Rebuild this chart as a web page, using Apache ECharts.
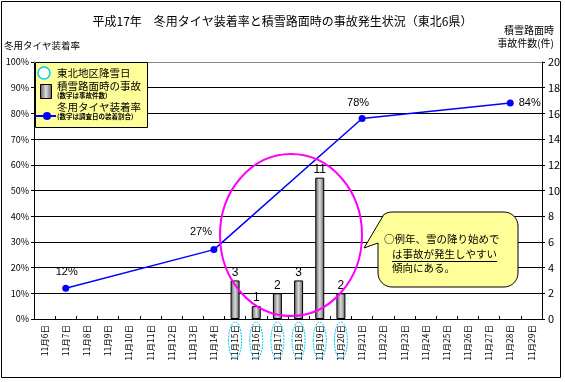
<!DOCTYPE html>
<html><head><meta charset="utf-8">
<script src="https://cdn.jsdelivr.net/npm/echarts@6/dist/echarts.min.js"></script>
<style>html,body{margin:0;padding:0;background:#fff}#c{width:565px;height:382px}</style>
</head><body><div id="c"></div>
<script>
const categories = ['11月6日','11月7日','11月8日','11月9日','11月10日','11月11日','11月12日','11月13日','11月14日','11月15日','11月16日','11月17日','11月18日','11月19日','11月20日','11月21日','11月22日','11月23日','11月24日','11月25日','11月26日','11月27日','11月28日','11月29日'];
const tireDates = ['11月7日','11月14日','11月21日','11月28日'];
const tireRates = [12, 27, 78, 84];
const accidentDates = ['11月15日','11月16日','11月17日','11月18日','11月19日','11月20日'];
const accidents = [3, 1, 2, 3, 11, 2];
const snowDays = ['11月15日','11月16日','11月17日','11月18日','11月19日','11月20日'];

const JP = '"Noto Sans CJK JP", sans-serif';
const chart = echarts.init(document.getElementById('c'), null, {renderer:'canvas'});

const labelCfg = [
  {position:'top', offset:[1,-2]},
  {position:'top', offset:[-13,-4]},
  {position:'top', offset:[-4,-2]},
  {position:'right', offset:[0,0]}
];

const barGrad = {type:'linear', x:0, y:0, x2:1, y2:0, colorStops:[
  {offset:0, color:'#5a5a5a'},{offset:0.5, color:'#dcdcdc'},{offset:1, color:'#5a5a5a'}]};
const barGrad2 = {type:'linear', x:0, y:0, x2:1, y2:0, colorStops:[
  {offset:0, color:'#5a5a5a'},{offset:0.5, color:'#dcdcdc'},{offset:1, color:'#5a5a5a'}]};

chart.setOption({
  animation:false,
  textStyle:{fontFamily:JP},
  title:{text:'平成17年　冬用タイヤ装着率と積雪路面時の事故発生状況（東北6県）', left:'center', top:10,
    textStyle:{fontFamily:JP, fontSize:12, fontWeight:'normal', color:'#000'}},
  grid:{left:34, top:62, right:23, bottom:63},
  xAxis:{type:'category', data:categories, boundaryGap:true,
    axisLine:{lineStyle:{color:'#000', width:1}},
    axisTick:{show:true, inside:true, length:3, lineStyle:{color:'#000'}},
    axisLabel:{rotate:90, fontSize:8.5, color:'#000', margin:6, interval:0, fontFamily:JP}},
  yAxis:[
    {type:'value', min:0, max:100, interval:10, position:'left',
     name:'冬用タイヤ装着率', nameLocation:'end', nameGap:12,
     nameTextStyle:{fontFamily:JP, fontSize:9.5, color:'#000', align:'left', padding:[0,0,0,-30]},
     axisLine:{show:true, lineStyle:{color:'#000'}},
     axisTick:{show:true, length:3, lineStyle:{color:'#000'}},
     axisLabel:{formatter:'{value}%', fontSize:9, color:'#000', margin:5},
     splitLine:{show:true, lineStyle:{color:'#000', width:1}}},
    {type:'value', min:0, max:20, interval:2, position:'right',
     name:'積雪路面時\n事故件数(件)', nameLocation:'end', nameGap:12,
     nameTextStyle:{fontFamily:JP, fontSize:10, color:'#000', align:'right', lineHeight:13, padding:[0,-12,0,0]},
     axisLine:{show:true, lineStyle:{color:'#000'}},
     axisTick:{show:true, length:3, lineStyle:{color:'#000'}},
     axisLabel:{fontSize:11, color:'#000', margin:6},
     splitLine:{show:false}}
  ],
  series:[
    {type:'bar', name:'積雪路面時の事故', yAxisIndex:1, barWidth:9,
     data:accidentDates.map((d,i)=>[d, accidents[i]]),
     itemStyle:{color:barGrad, borderColor:'#000', borderWidth:1},
     label:{show:true, position:'top', distance:2, fontSize:12, color:'#000', fontFamily:'"Liberation Sans", sans-serif'}},
    {type:'line', name:'冬用タイヤ装着率', yAxisIndex:0,
     data:tireDates.map((d,i)=>({value:[d, tireRates[i]], label:labelCfg[i]})),
     lineStyle:{color:'#0000ff', width:1.5}, itemStyle:{color:'#0000ff'},
     symbol:'circle', symbolSize:7, z:5,
     label:{show:true, formatter:p=>p.value[1]+'%', fontSize:11, color:'#000', fontFamily:'"Liberation Sans", sans-serif'}}
  ]
});

function arcPts(cx, cy, r, a0, a1, n){
  const pts=[];
  for(let k=0;k<=n;k++){const a=a0+(a1-a0)*k/n; pts.push([cx+r*Math.cos(a), cy+r*Math.sin(a)]);}
  return pts;
}
const bx0=378, by0=212, bx1=518, by1=287, br=14;
let bubble = [];
bubble = bubble.concat(arcPts(bx1-br, by0+br, br, -Math.PI/2, 0, 8));
bubble = bubble.concat(arcPts(bx1-br, by1-br, br, 0, Math.PI/2, 8));
bubble = bubble.concat(arcPts(bx0+br, by1-br, br, Math.PI/2, Math.PI, 8));
bubble.push([bx0, 243]);
bubble.push([364, 248]);
bubble.push([383, 216]);
bubble = bubble.concat(arcPts(bx0+br, by0+br, br, -Math.PI*0.72, -Math.PI/2, 4));

const g = [];
g.push({type:'rect', shape:{x:1.5, y:1.5, width:559, height:376}, style:{fill:null, stroke:'#000', lineWidth:1}, z:1});
g.push({type:'line', shape:{x1:34, y1:62.5, x2:542, y2:62.5}, style:{stroke:'#888', lineWidth:1}, z:2});
snowDays.forEach(d=>{
  const px = chart.convertToPixel({xAxisIndex:0}, d);
  g.push({type:'ellipse', shape:{cx:px, cy:340.5, rx:6.5, ry:18.5},
    style:{fill:null, stroke:'#00ccff', lineWidth:1, lineDash:[2,1]}, z:20});
});
g.push({type:'ellipse', shape:{cx:291, cy:235, rx:71, ry:81}, style:{fill:null, stroke:'#ff00ff', lineWidth:2}, z:20});
g.push({type:'polygon', shape:{points:bubble}, style:{fill:'#ffff99', stroke:'#000', lineWidth:1}, z:30});
g.push({type:'text', x:384, y:239, style:{text:'○例年、雪の降り始めで', font:'10.5px '+JP, fill:'#000', textVerticalAlign:'middle'}, z:31});
g.push({type:'text', x:392, y:254, style:{text:'は事故が発生しやすい', font:'10.5px '+JP, fill:'#000', textVerticalAlign:'middle'}, z:31});
g.push({type:'line', shape:{x1:392, y1:261.5, x2:497, y2:261.5}, style:{stroke:'#000', lineWidth:1}, z:31});
g.push({type:'text', x:392, y:268, style:{text:'傾向にある。', font:'10.5px '+JP, fill:'#000', textVerticalAlign:'middle'}, z:31});
g.push({type:'rect', shape:{x:35.5, y:62.5, width:112, height:65}, style:{fill:'#ffff99', stroke:'#000', lineWidth:1}, z:30});
g.push({type:'circle', shape:{cx:44, cy:73, r:6}, style:{fill:'#fff', stroke:'#00ccff', lineWidth:1.5}, z:31});
g.push({type:'text', x:57, y:73, style:{text:'東北地区降雪日', font:'10.5px '+JP, fill:'#000', textVerticalAlign:'middle'}, z:31});
g.push({type:'rect', shape:{x:40.5, y:84.5, width:11, height:14}, style:{fill:barGrad2, stroke:'#000', lineWidth:1}, z:31});
g.push({type:'text', x:57, y:86, style:{text:'積雪路面時の事故', font:'10.5px '+JP, fill:'#000', textVerticalAlign:'middle'}, z:31});
g.push({type:'text', x:57, y:96, style:{text:'(数字は事故件数)', font:'bold 6.5px '+JP, fill:'#000', textVerticalAlign:'middle'}, z:31});
g.push({type:'line', shape:{x1:35, y1:116, x2:56, y2:116}, style:{stroke:'#0000ff', lineWidth:2}, z:31});
g.push({type:'circle', shape:{cx:47, cy:116, r:4}, style:{fill:'#0000ff'}, z:32});
g.push({type:'text', x:57, y:107, style:{text:'冬用タイヤ装着率', font:'10.5px '+JP, fill:'#000', textVerticalAlign:'middle'}, z:31});
g.push({type:'text', x:57, y:117, style:{text:'(数字は調査日の装着割合)', font:'bold 6.5px '+JP, fill:'#000', textVerticalAlign:'middle'}, z:31});
chart.setOption({graphic:g});
</script>
</body></html>
